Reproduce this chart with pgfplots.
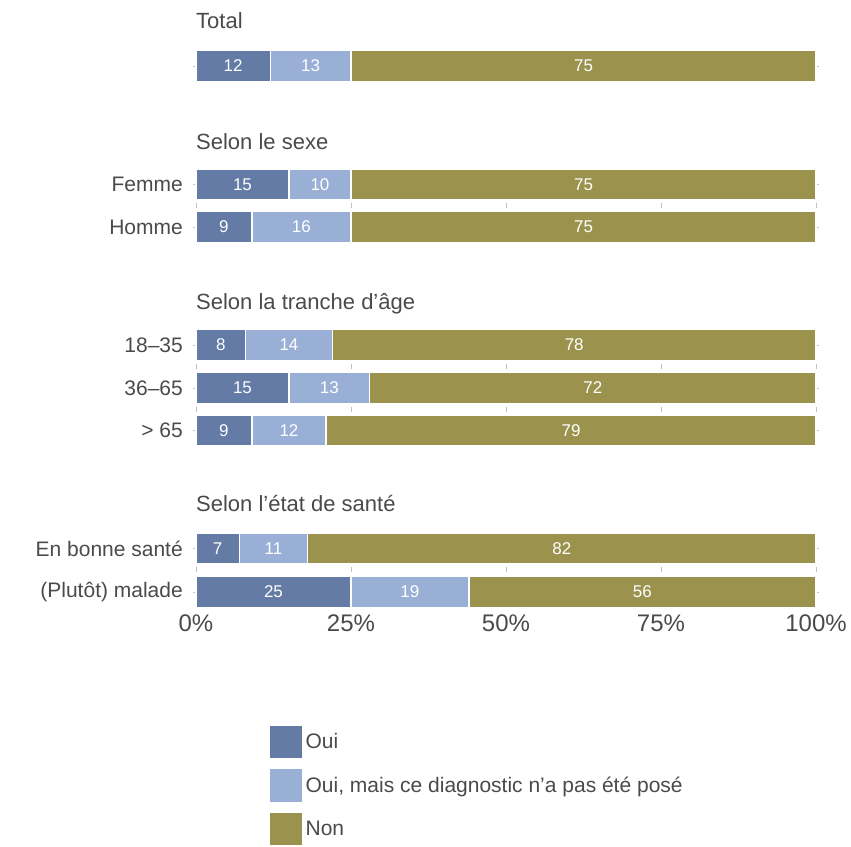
\documentclass[border=0pt]{standalone}
\usepackage{fontspec}
\setmainfont{Liberation Sans}
\usepackage{pgfplots}
\pgfplotsset{compat=1.18}

\definecolor{cOui}{HTML}{647BA6}
\definecolor{cMais}{HTML}{9AAFD6}
\definecolor{cNon}{HTML}{9B934D}
\definecolor{cTxt}{HTML}{4A4A4A}

\begin{document}
\begin{tikzpicture}
\begin{axis}[
  scale only axis,
  width=620pt, height=610pt,
  xmin=0, xmax=100, ymin=-610, ymax=0,
  enlargelimits=false,
  clip=false,
  xbar stacked,
  bar width=31pt,
  axis line style={draw=none},
  xtick={0,25,50,75,100},
  xticklabels={0\%,25\%,50\%,75\%,100\%},
  xtick style={draw=none},
  ytick={-589,-545.5,-427.5,-385,-342,-224,-181.5,-63},
  yticklabels={(Plutôt) malade,En bonne santé,> 65,36–65,18–35,Homme,Femme,},
  ytick style={draw=cTxt!35, line width=0.6pt},
  major tick length=3pt,
  tick align=outside,
  tick pos=both,
  xticklabel style={font=\fontsize{24}{28}\selectfont, color=cTxt, inner sep=0pt, yshift=1pt},
  yticklabel style={font=\fontsize{21}{25}\selectfont, color=cTxt, inner sep=0pt, xshift=-10pt},
  legend style={at={(0.1161,-0.1820)}, anchor=north west, draw=none, fill=none,
    inner sep=0pt, font=\fontsize{21}{25}\selectfont, text=cTxt, row sep=8pt},
  legend cell align=left,
  legend image post style={xscale=1.99, yscale=5.98},
]
\addplot[fill=cOui, draw=white, line width=1.5pt, area legend] coordinates {
  (12,-63) (15,-181.5) (9,-224) (8,-342) (15,-385) (9,-427.5) (7,-545.5) (25,-589)};
\addplot[fill=cMais, draw=white, line width=1.5pt, area legend] coordinates {
  (13,-63) (10,-181.5) (16,-224) (14,-342) (13,-385) (12,-427.5) (11,-545.5) (19,-589)};
\addplot[fill=cNon, draw=white, line width=1.5pt, area legend] coordinates {
  (75,-63) (75,-181.5) (75,-224) (78,-342) (72,-385) (79,-427.5) (82,-545.5) (56,-589)};
\legend{Oui,{Oui, mais ce diagnostic n’a pas été posé},Non}

\node[anchor=base west, inner sep=0pt, color=cTxt, font=\fontsize{22}{26}\selectfont] at (axis cs:0,-26) {Total};
\node[anchor=base west, inner sep=0pt, color=cTxt, font=\fontsize{22}{26}\selectfont] at (axis cs:0,-146.5) {Selon le sexe};
\node[anchor=base west, inner sep=0pt, color=cTxt, font=\fontsize{22}{26}\selectfont] at (axis cs:0,-306.5) {Selon la tranche d'âge};
\node[anchor=base west, inner sep=0pt, color=cTxt, font=\fontsize{22}{26}\selectfont] at (axis cs:0,-509) {Selon l'état de santé};

\draw[cTxt!35, line width=0.6pt]
  (axis cs:0,-200)--(axis cs:0,-205) (axis cs:25,-200)--(axis cs:25,-205) (axis cs:50,-200)--(axis cs:50,-205) (axis cs:75,-200)--(axis cs:75,-205) (axis cs:100,-200)--(axis cs:100,-205)
  (axis cs:0,-361)--(axis cs:0,-366) (axis cs:25,-361)--(axis cs:25,-366) (axis cs:50,-361)--(axis cs:50,-366) (axis cs:75,-361)--(axis cs:75,-366) (axis cs:100,-361)--(axis cs:100,-366)
  (axis cs:0,-404)--(axis cs:0,-409) (axis cs:25,-404)--(axis cs:25,-409) (axis cs:50,-404)--(axis cs:50,-409) (axis cs:75,-404)--(axis cs:75,-409) (axis cs:100,-404)--(axis cs:100,-409)
  (axis cs:0,-564)--(axis cs:0,-569) (axis cs:25,-564)--(axis cs:25,-569) (axis cs:50,-564)--(axis cs:50,-569) (axis cs:75,-564)--(axis cs:75,-569) (axis cs:100,-564)--(axis cs:100,-569);

% page frame matching the reference size
\path (axis cs:-31.613,0) (axis cs:105.645,-839);
\end{axis}

% value labels, centred in each segment
\begin{axis}[
  scale only axis,
  width=620pt, height=610pt,
  xmin=0, xmax=100, ymin=-610, ymax=0,
  enlargelimits=false, clip=false,
  hide axis,
  nodes near coords,
  point meta=explicit symbolic,
  every node near coord/.style={anchor=center, color=white, inner sep=0pt,
    font=\fontsize{17}{20}\selectfont},
]
\addplot[draw=none, mark=none] coordinates {
  (6,-63) [12] (7.5,-181.5) [15] (4.5,-224) [9] (4,-342) [8]
  (7.5,-385) [15] (4.5,-427.5) [9] (3.5,-545.5) [7] (12.5,-589) [25]};
\addplot[draw=none, mark=none] coordinates {
  (18.5,-63) [13] (20,-181.5) [10] (17,-224) [16] (15,-342) [14]
  (21.5,-385) [13] (15,-427.5) [12] (12.5,-545.5) [11] (34.5,-589) [19]};
\addplot[draw=none, mark=none] coordinates {
  (62.5,-63) [75] (62.5,-181.5) [75] (62.5,-224) [75] (61,-342) [78]
  (64,-385) [72] (60.5,-427.5) [79] (59,-545.5) [82] (72,-589) [56]};
\end{axis}
\end{tikzpicture}
\end{document}
